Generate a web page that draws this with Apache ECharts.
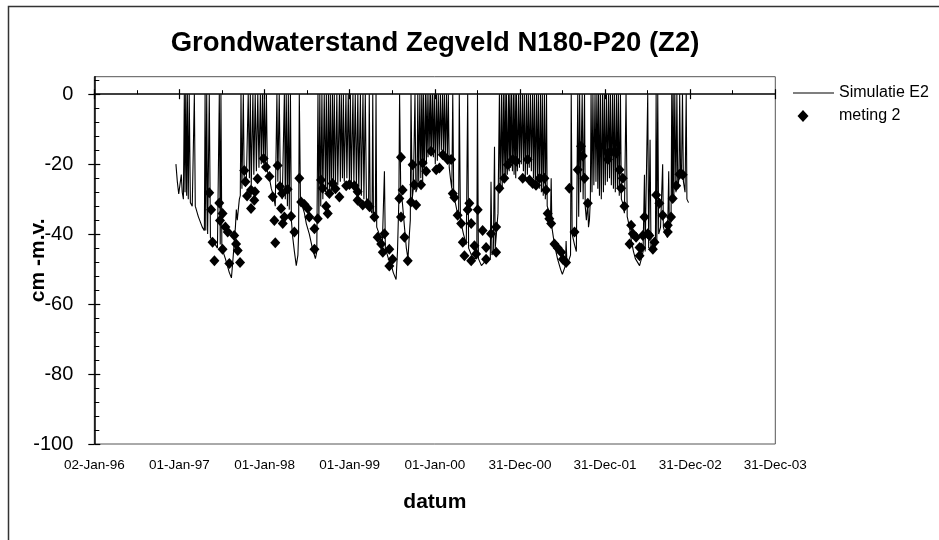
<!DOCTYPE html>
<html>
<head>
<meta charset="utf-8">
<title>Grondwaterstand Zegveld N180-P20 (Z2)</title>
<script src="https://cdn.jsdelivr.net/npm/echarts@6/dist/echarts.min.js"></script>
<style>
  html, body { margin: 0; padding: 0; background: #fff; }
  #chart { width: 939px; height: 540px; }
</style>
</head>
<body>
<div id="chart"></div>
<script>
// Time is counted in days from 02-Jan-96 (day 0); the date axis steps by 365 days.
const xTickLabels = ['02-Jan-96', '01-Jan-97', '01-Jan-98', '01-Jan-99', '01-Jan-00',
                     '31-Dec-00', '31-Dec-01', '31-Dec-02', '31-Dec-03'];
const yTicks = [-100, -80, -60, -40, -20, 0];
const yMinorTicks = [-96, -92, -88, -84, -76, -72, -68, -64, -56, -52, -48, -44,
                     -36, -32, -28, -24, -16, -12, -8, -4, 4];

// Simulated groundwater level (cm below surface), [day, level]
const sim1997 = [
  [350,-20],[356,-25],[362,-28.5],[369,-28],[373,-23],[377,-28],[382,-30],[386,0],[389,-28],[392,0],
  [396,-29],[399,0],[403,-30],[407,0],[412,-31],[420,-32],[426,-32],[429,0],[433,-32],[446,-35],
  [463,-38],[472,-39],[475,0],[478,-39],[482,0],[486,-40],[490,-40],[493,0],[498,-41],[510,-42],
  [528,-44],[533,-44],[536,0],[540,-43],[543,0],[547,-44],[562,-47],[579,-51],[588,-52.5],[596,-46],
  [605,-38],[609,-33],[613,-36],[622,-30],[626,-29],[629,0],[633,-27],[639,0],[643,-26],[652,-25],
  [657,-25],[660,0],[665,-24],[669,0],[673,-26],[680,0],[684,-23],[690,0],[695,-22],[701,0],
  [706,-21],[712,0],[716,-20],[721,0],[725,-19],[729,0]
];
const sim1998 = [
  [733,-20],[738,0],[742,-22],[751,-24],[759,-27],[768,-29],[776,-32],[780,-32],[783,0],[787,-25],
  [793,0],[798,-27],[806,-30],[812,-30],[815,0],[819,-30],[823,0],[828,-32],[832,0],[836,-33],
  [841,0],[845,-36],[851,-41],[858,-45],[866,-49],[873,-46],[876,-40],[879,0],[884,-30],[892,-32],
  [901,-34],[909,-37],[922,-40],[935,-44],[948,-47],[954,-45],[959,0],[963,-36],[967,0],[971,-32],
  [976,0],[980,-30],[986,0],[991,-28],[995,0],[999,-29],[1004,0],[1008,-27],[1012,0],[1016,-28],
  [1021,0],[1025,-26],[1029,0],[1034,-27],[1040,0],[1044,-26],[1051,0],[1055,-25],[1059,0],[1064,-24],
  [1068,0],[1072,-25],[1079,0],[1083,-24],[1089,0]
];
const sim1999 = [
  [1094,-25],[1098,0],[1102,-26],[1109,0],[1113,-25],[1119,0],[1124,-27],[1130,0],[1134,-28],[1141,0],
  [1145,-29],[1152,0],[1156,-30],[1162,0],[1167,-31],[1176,-32],[1179,0],[1183,-33],[1191,-34],[1194,0],
  [1197,-35],[1205,-36],[1208,0],[1211,-38],[1222,-40],[1235,-43],[1244,-22],[1248,-44],[1261,-47],[1274,-49],
  [1282,-51],[1294,-53],[1300,-45],[1306,-30],[1309,0],[1314,-28],[1321,-31],[1330,-38],[1338,-44],[1345,-47],
  [1351,-40],[1355,-36],[1358,0],[1363,-30],[1368,-27],[1372,-27],[1375,0],[1379,-28],[1384,-27],[1387,0],
  [1391,-25],[1396,0],[1400,-24],[1404,0],[1408,-25],[1411,0],[1415,-22],[1420,0],[1424,-20],[1427,0],
  [1431,-18],[1435,0],[1439,-17],[1442,0],[1446,-16],[1450,0],[1454,-18],[1458,0]
];
const sim2000 = [
  [1462,-20],[1467,0],[1471,-19],[1475,0],[1479,-17],[1484,0],[1488,-16],[1493,0],[1497,-17],[1501,0],
  [1505,-18],[1510,0],[1514,-19],[1518,0],[1522,-21],[1527,-24],[1533,-27],[1537,0],[1541,-28],[1548,-31],
  [1557,-34],[1562,-35],[1565,0],[1570,-36],[1583,-40],[1595,-43],[1598,-43.5],[1601,0],[1605,-44],[1617,-46],
  [1630,-47],[1640,-47],[1643,0],[1647,-47],[1660,-49],[1673,-48],[1686,-47],[1698,-47],[1701,-25],[1705,-46],
  [1711,-45],[1716,-15],[1719,-44],[1724,-40],[1731,-34],[1737,0],[1740,-28],[1746,0],[1749,-27],[1754,0],
  [1757,-25],[1761,0],[1764,-24],[1767,0],[1771,-23],[1776,0],[1779,-22],[1782,0],[1785,-21],[1789,0],
  [1793,-22],[1797,0],[1800,-23],[1804,0],[1807,-24],[1810,0],[1814,-22],[1819,0],[1823,-21]
];
const sim2001 = [
  [1827,0],[1831,-20],[1836,0],[1840,-22],[1844,0],[1848,-24],[1853,0],[1857,-23],[1861,0],[1865,-21],
  [1870,0],[1874,-22],[1879,0],[1883,-24],[1887,0],[1891,-26],[1896,0],[1900,-25],[1904,0],[1908,-27],
  [1913,0],[1917,-28],[1921,0],[1925,-29],[1930,0],[1934,-30],[1939,0],[1942,-32],[1947,-33],[1956,-36],
  [1959,-24],[1962,-38],[1973,-43],[1986,-47],[1999,-50],[2007,-51.5],[2020,-49],[2023,-42],[2027,-49],[2037,-47],
  [2042,-46],[2045,0],[2049,-40],[2059,-43],[2067,-45],[2070,-45],[2073,0],[2077,-35],[2081,0],[2085,-28],
  [2092,0],[2096,-30],[2102,0],[2105,-32],[2110,-36],[2116,-31],[2119,-38],[2123,-36],[2127,-30],[2130,0],
  [2134,-28],[2138,0],[2142,-26],[2147,0],[2151,-25],[2155,0],[2159,-27],[2162,0],[2166,-29],[2170,0],
  [2174,-30],[2179,0],[2183,-28]
];
const sim2002 = [
  [2187,0],[2191,-26],[2196,0],[2200,-25],[2205,0],[2209,-24],[2213,0],[2217,-26],[2222,0],[2226,-27],
  [2230,0],[2234,-28],[2239,0],[2243,-27],[2247,0],[2251,-29],[2256,0],[2260,-30],[2265,-31],[2273,-34],
  [2277,-34],[2280,0],[2285,-35],[2295,-38],[2303,-42],[2312,-45],[2320,-47],[2329,-48],[2338,-49],[2346,-47],
  [2353,-45],[2359,-23],[2362,-45],[2369,-45],[2373,0],[2377,-44],[2383,-13],[2387,-44],[2393,-45],[2402,-44],
  [2406,-43],[2409,0],[2412,-42],[2416,0],[2420,-40],[2428,-38],[2437,-20],[2440,-38],[2449,-40],[2458,-41],
  [2463,-22],[2466,-39],[2473,-36],[2476,0],[2479,-31],[2482,0],[2485,-30],[2489,0],[2494,-28],[2498,0],
  [2502,-27],[2507,-24],[2510,0],[2514,-23],[2518,-22],[2522,0],[2526,-25],[2533,-28],[2538,0],[2541,-30],
  [2548,-31]
];

// Measured levels, [day, level]
const meas1997 = [
  [493,-28.2],[501,-33],[507,-42.3],[515,-47.6],[536,-31.1],[539,-36.1],[550,-34.1],[550,-44.3],
  [562,-38],[572,-39.4],[579,-48.4],[600,-40.4],[608,-42.8],[615,-44.7],[625,-48.1],[643,-21.8],
  [648,-25],[655,-29.1],[672,-27.4],[672,-32.7],[686,-30.3],[689,-27.9],[700,-24.2],[726,-18.4]
];
const meas1998 = [
  [736,-20.8],[751,-23.5],[765,-29.3],[772,-36.1],[776,-42.5],[786,-20.4],[796,-26.4],[801,-32.7],
  [805,-28.4],[808,-37],[815,-35.1],[829,-27.2],[844,-34.9],[858,-39.4],[879,-24],[887,-30.8],
  [901,-31.5],[915,-32.7],[922,-35.1],[944,-38.5],[944,-44.3],[958,-35.6],[972,-24.5],[979,-26.9],
  [994,-32],[1001,-34.1],[1008,-28.4],[1022,-25.5],[1034,-27],[1051,-29.4],[1080,-26.2]
];
const meas1999 = [
  [1094,-25.8],[1115,-26.2],[1129,-27.9],[1129,-30.3],[1151,-31.7],[1172,-31.3],[1180,-32.2],[1201,-35.1],
  [1215,-40.9],[1230,-42.8],[1237,-45.2],[1244,-39.9],[1265,-44.3],[1265,-49.1],[1279,-47.2],[1308,-29.8],
  [1315,-18],[1315,-35.1],[1322,-27.4],[1330,-40.9],[1344,-47.6],[1358,-30.8],[1365,-20.2],[1372,-25.9],
  [1380,-31.7],[1401,-25.9],[1408,-19.7],[1423,-22],[1444,-16.3]
];
const meas2000 = [
  [1466,-21.6],[1480,-21.1],[1494,-17.3],[1515,-18.7],[1530,-18.7],[1537,-28.4],[1544,-29.5],[1558,-34.6],
  [1573,-37],[1580,-42.3],[1587,-46.2],[1601,-33],[1608,-31.2],[1616,-37],[1616,-47.6],[1630,-43.3],
  [1637,-45.7],[1644,-33],[1665,-39],[1680,-43.8],[1680,-47.2],[1701,-39.9],[1723,-38],[1723,-45.2],
  [1737,-26.9],[1758,-24],[1773,-20.2],[1794,-18.7],[1809,-19.2]
];
const meas2001 = [
  [1837,-24],[1858,-18.7],[1866,-24.5],[1880,-25.5],[1894,-26],[1909,-24],[1930,-24],[1937,-27.4],
  [1944,-34.1],[1951,-35.6],[1959,-37],[1973,-42.8],[1987,-44],[2002,-45.2],[2009,-47.2],[2023,-48.1],
  [2037,-26.9],[2059,-39.4],[2073,-21.6],[2087,-14.9],[2094,-17.7],[2102,-24],[2116,-31.2]
];
const meas2002 = [
  [2202,-16.8],[2202,-18.7],[2216,-16.5],[2238,-16.8],[2252,-21.6],[2259,-26.9],[2266,-24],[2273,-32],
  [2295,-42.8],[2302,-37.5],[2309,-39.9],[2323,-40.9],[2338,-43.8],[2338,-46.2],[2345,-44],[2352,-40.4],
  [2359,-35.1],[2373,-39.9],[2380,-40.4],[2395,-44.3],[2402,-42.3],[2409,-28.8],[2423,-31.2],[2437,-34.6],
  [2459,-37.5],[2459,-39.4],[2473,-35.1],[2480,-29.8],[2495,-26.2],[2509,-22.9],[2523,-23]
];

const simulation = [].concat(sim1997, sim1998, sim1999, sim2000, sim2001, sim2002);
const measurements = [].concat(meas1997, meas1998, meas1999, meas2000, meas2001, meas2002);

const FONT = '"Liberation Sans", Arial, Helvetica, sans-serif';
const BLACK = '#000';

const chart = echarts.init(document.getElementById('chart'), null, { renderer: 'canvas' });

const hiddenAxisBase = {
  axisLine: { show: false },
  axisLabel: { show: false },
  splitLine: { show: false }
};

const legendText = { fontFamily: FONT, fontSize: 16, color: BLACK };

chart.setOption({
  backgroundColor: '#fff',
  animation: false,
  textStyle: { fontFamily: FONT, color: BLACK },
  graphic: [
    {
      type: 'rect', silent: true, z: -10,
      shape: { x: 8.5, y: 6.5, width: 1000, height: 1000 },
      style: { fill: 'none', stroke: '#333', lineWidth: 1.5 }
    },
    {
      type: 'text', silent: true, x: 435, y: 43,
      style: {
        text: 'Grondwaterstand Zegveld N180-P20 (Z2)',
        fontFamily: FONT, fontSize: 27.5, fontWeight: 'bold', fill: BLACK,
        align: 'center', verticalAlign: 'middle'
      }
    }
  ],
  legend: [
    {
      data: ['Simulatie E2'], orient: 'vertical', left: 793, top: 85, padding: 0,
      selectedMode: false, icon: 'rect', itemWidth: 41, itemHeight: 1,
      itemStyle: { color: BLACK }, textStyle: legendText
    },
    {
      data: ['meting 2'], orient: 'vertical', left: 797.5, top: 108, padding: 0,
      selectedMode: false, icon: 'diamond', itemWidth: 11, itemHeight: 12,
      itemStyle: { color: BLACK },
      textStyle: Object.assign({ padding: [0, 0, 0, 25.5] }, legendText)
    }
  ],
  grid: {
    left: 94.3, right: 163.7, top: 76.7, bottom: 96,
    show: true, borderColor: '#555', borderWidth: 1, backgroundColor: 'transparent',
    outerBoundsMode: 'none'
  },
  xAxis: [
    {
      type: 'value', min: 0, max: 2920, interval: 365, position: 'bottom',
      axisLine: { show: true, lineStyle: { color: BLACK, width: 1.5 } },
      axisTick: { show: true, inside: true, length: 5, lineStyle: { color: BLACK, width: 1.2 } },
      minorTick: { show: true, splitNumber: 2, length: 4, lineStyle: { color: BLACK, width: 1 } },
      axisLabel: {
        fontFamily: FONT, fontSize: 13.5, color: BLACK, margin: 14,
        formatter: v => xTickLabels[Math.round(v / 365)]
      },
      splitLine: { show: false }, minorSplitLine: { show: false },
      name: 'datum', nameLocation: 'middle', nameGap: 48, nameMoveOverlap: false,
      nameTextStyle: { fontFamily: FONT, fontSize: 21, fontWeight: 'bold', color: BLACK }
    },
    Object.assign({
      type: 'value', min: 0, max: 2920, interval: 365, position: 'bottom',
      axisTick: { show: true, inside: false, length: 5, lineStyle: { color: BLACK, width: 1.2 } }
    }, hiddenAxisBase)
  ],
  yAxis: [
    {
      type: 'value', min: -100, max: 5, position: 'left',
      axisLine: { show: true, lineStyle: { color: BLACK, width: 1.5 } },
      axisTick: { show: true, inside: false, length: 6, customValues: yTicks,
                  lineStyle: { color: BLACK, width: 1.2 } },
      axisLabel: { customValues: yTicks, fontFamily: FONT, fontSize: 20, color: BLACK, margin: 21 },
      splitLine: { show: false },
      name: 'cm -m.v.', nameLocation: 'middle', nameGap: 46, nameMoveOverlap: false,
      nameTextStyle: { fontFamily: FONT, fontSize: 21, fontWeight: 'bold', color: BLACK }
    },
    Object.assign({
      type: 'value', min: -100, max: 5, position: 'left',
      axisTick: { show: true, inside: true, length: 6, customValues: yTicks,
                  lineStyle: { color: BLACK, width: 1.2 } }
    }, hiddenAxisBase),
    Object.assign({
      type: 'value', min: -100, max: 5, position: 'left',
      axisTick: { show: true, inside: true, length: 5, customValues: yMinorTicks,
                  lineStyle: { color: BLACK, width: 1 } }
    }, hiddenAxisBase)
  ],
  series: [
    {
      name: 'Simulatie E2', type: 'line', xAxisIndex: 0, yAxisIndex: 0,
      data: simulation, symbol: 'none', showSymbol: false,
      lineStyle: { color: BLACK, width: 1.1 }, itemStyle: { color: BLACK },
      z: 2
    },
    {
      name: 'meting 2', type: 'scatter', xAxisIndex: 0, yAxisIndex: 0,
      data: measurements, symbol: 'diamond', symbolSize: [10, 11],
      itemStyle: { color: BLACK, opacity: 1 }, z: 3
    }
  ]
});
</script>
</body>
</html>
